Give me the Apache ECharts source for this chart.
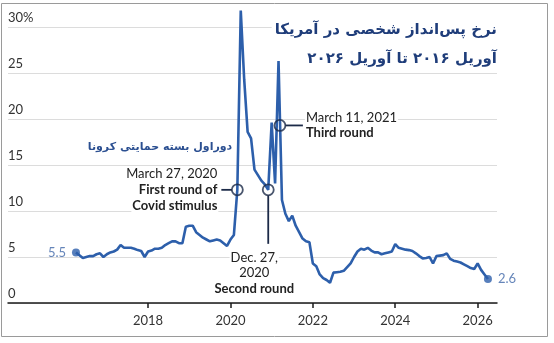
<!DOCTYPE html>
<html lang="fa">
<head>
  <meta charset="UTF-8">
  <title>نرخ پس‌انداز شخصی در آمریکا</title>
  <script src="https://cdn.jsdelivr.net/npm/echarts@6/dist/echarts.min.js"></script>
  <style>html, body { margin: 0; padding: 0; background: #fff; }</style>
</head>
<body>
  <div id="chart" style="width: 554px; height: 343px;"></div>
  <script>
    // personal saving rate, monthly, April 2016 .. April 2026 (%)
    const startYear = 2016
    const startMonth = 4
    const rate2016 = [5.5, 5.2, 4.9, 5.0, 5.1, 5.1, 5.3, 5.4, 5.0]
    const rate2017 = [5.3, 5.5, 5.6, 5.8, 6.3, 6.0, 6.0, 6.0, 5.9, 5.75, 5.65, 5.0]
    const rate2018 = [5.6, 5.7, 5.9, 5.9, 6.0, 6.3, 6.5, 6.7, 6.7, 6.5, 6.5, 8.3]
    const rate2019 = [8.4, 8.4, 7.7, 7.4, 7.1, 6.9, 6.7, 6.8, 6.9, 6.8, 6.5, 6.2]
    const rate2020 = [6.9, 7.4, 12.3, 31.8, 24.3, 18.6, 17.9, 14.5, 13.9, 13.3, 12.9, 12.3]
    const rate2021 = [19.6, 13.0, 26.3, 11.2, 9.7, 8.9, 9.5, 8.4, 7.7, 7.0, 6.7, 6.6]
    const rate2022 = [4.3, 4.0, 3.1, 2.7, 2.5, 2.2, 3.3, 3.35, 3.4, 3.5, 3.9, 4.3]
    const rate2023 = [5.0, 5.6, 5.9, 5.8, 6.0, 5.7, 5.5, 5.5, 5.3, 5.4, 5.5, 5.6]
    const rate2024 = [6.4, 6.0, 5.9, 5.8, 5.75, 5.65, 5.4, 5.1, 4.85, 4.9, 5.0, 4.3]
    const rate2025 = [5.1, 5.15, 5.2, 5.4, 4.8, 4.6, 4.5, 4.4, 4.2, 4.0, 3.8, 3.7]
    const rate2026 = [4.3, 3.6, 3.1, 2.6]
    const savingsRate = [].concat(rate2016, rate2017, rate2018, rate2019, rate2020,
      rate2021, rate2022, rate2023, rate2024, rate2025, rate2026)

    const yearTicks = [2018, 2020, 2022, 2024, 2026]

    // stimulus rounds (decimal year, %)
    const eventX = [2020.167, 2020.917, 2021.2]
    const eventY = [12.3, 12.3, 19.3]

    const titleText = 'نرخ پس‌انداز شخصی در آمریکا'
    const subtitleText = 'آوریل ۲۰۱۶ تا آوریل ۲۰۲۶'
    const noteText = 'دوراول بسته حمایتی کرونا'

    const blue = '#2d5fab'
    const ink = '#1c2a48'
    const latin = 'Lato, "Open Sans", sans-serif'
    const persian = '"DejaVu Sans", sans-serif'

    const lineData = savingsRate.map((v, i) => [startYear + (startMonth - 1 + i) / 12, v])
    const ends = [lineData[0], lineData[lineData.length - 1]]

    const chart = echarts.init(document.getElementById('chart'))

    const option = {
      animation: false,
      textStyle: { fontFamily: latin },
      grid: { left: 8, right: 57, top: 27, bottom: 40, outerBoundsMode: 'none' },
      xAxis: {
        type: 'value',
        min: 2014.6,
        max: 2026.47,
        axisLine: { lineStyle: { color: '#1a1a1a', width: 1.5 } },
        axisTick: { show: true, customValues: yearTicks, length: 5, lineStyle: { color: '#1a1a1a', width: 1.5 } },
        axisLabel: { customValues: yearTicks, color: '#333', fontSize: 13, margin: 11, formatter: v => String(v) },
        splitLine: { show: false }
      },
      yAxis: {
        type: 'value',
        min: 0,
        max: 30,
        interval: 5,
        axisLine: { show: false },
        axisTick: { show: false },
        axisLabel: {
          inside: true,
          margin: 0,
          align: 'left',
          verticalAlign: 'bottom',
          padding: [0, 0, 3, 0],
          color: '#333',
          fontSize: 13,
          formatter: v => (v === 30 ? '30%' : v)
        },
        splitLine: { lineStyle: { color: '#dcdcdc', width: 1 } }
      },
      series: [
        {
          name: 'rate',
          type: 'line',
          data: lineData,
          symbol: 'none',
          clip: false,
          lineStyle: { color: blue, width: 2.6 },
          z: 3
        },
        {
          name: 'ends',
          type: 'scatter',
          data: ends,
          symbolSize: 8,
          itemStyle: { color: blue },
          label: {
            show: true,
            color: '#3f67a8',
            fontSize: 13,
            distance: 6,
            formatter: p => p.value[1],
            position: 'right'
          },
          labelLayout: p => (p.dataIndex === 0 ? { dx: -38 } : {}),
          z: 4
        },
        {
          name: 'events',
          type: 'scatter',
          data: eventX.map((x, i) => [x, eventY[i]]),
          symbolSize: 11,
          itemStyle: { color: 'rgba(255,255,255,0)', borderColor: ink, borderWidth: 1.8 },
          z: 6
        }
      ]
    }

    chart.setOption(option)

    const px = (x, y) => chart.convertToPixel({ gridIndex: 0 }, [x, y])

    function txt(text, x, y, align, opts) {
      opts = opts || {}
      return {
        type: 'text',
        x, y,
        z: opts.z != null ? opts.z : 20,
        silent: true,
        style: {
          text,
          font: opts.font || ('13px ' + latin),
          fill: opts.fill || '#222',
          align, textAlign: align,
          verticalAlign: 'middle', textVerticalAlign: 'middle',
          backgroundColor: opts.bg === false ? null : '#fff',
          padding: opts.pad || [0, 1]
        }
      }
    }
    function seg(x1, y1, x2, y2) {
      return {
        type: 'line', z: 19, silent: true,
        shape: { x1, y1, x2, y2 },
        style: { stroke: ink, lineWidth: 1.8 }
      }
    }

    const [c1x, c1y] = px(eventX[0], eventY[0])
    const [c2x, c2y] = px(eventX[1], eventY[1])
    const [c3x, c3y] = px(eventX[2], eventY[2])
    const bold = 'bold 13px ' + latin
    const titleFont = 'bold 15px ' + persian

    const graphics = [
      {
        type: 'rect', z: 0, silent: true,
        shape: { x: 1.5, y: 3.5, width: 546, height: 333 },
        style: { fill: 'none', stroke: '#9a9a9a', lineWidth: 1 }
      },
      txt(titleText, 500, 30, 'right', { font: titleFont, fill: '#1f3d7a', pad: [3, 3], z: 1 }),
      txt(subtitleText, 500, 59, 'right', { font: titleFont, fill: '#1f3d7a', pad: [3, 3], z: 1 }),
      txt(noteText, 160, 147, 'center', { font: 'bold 11px ' + persian, fill: '#2b4f91', bg: false }),

      // first round
      seg(c1x - 16, c1y, c1x - 5.5, c1y),
      txt('March 27, 2020', c1x - 19, c1y - 16, 'right'),
      txt('First round of', c1x - 19, c1y, 'right', { font: bold }),
      txt('Covid stimulus', c1x - 19, c1y + 16, 'right', { font: bold }),

      // second round
      seg(c2x, c2y + 5.5, c2x, c2y + 54),
      txt('Dec. 27,', c2x - 14, c2y + 68, 'center'),
      txt('2020', c2x - 14, c2y + 83, 'center'),
      txt('Second round', c2x - 14, c2y + 99, 'center', { font: bold }),

      // third round
      seg(c3x + 5.5, c3y, c3x + 23, c3y),
      txt('March 11, 2021', c3x + 25, c3y - 8, 'left'),
      txt('Third round', c3x + 25, c3y + 7, 'left', { font: bold })
    ]

    chart.setOption({ graphic: graphics })
  </script>
</body>
</html>
